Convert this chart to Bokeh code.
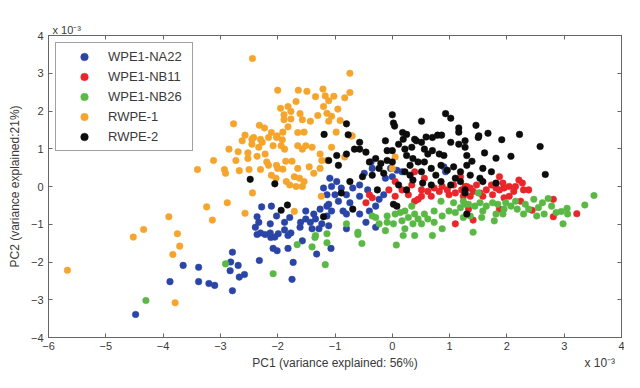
from bokeh.plotting import figure
from bokeh.models import Range1d, FixedTicker, LinearAxis, Legend, LegendItem
from bokeh.embed import file_html
from bokeh.resources import INLINE

# ---------------- data (PC scores, units of 1e-3) ----------------
names = ["WPE1-NA22", "WPE1-NB11", "WPE1-NB26", "RWPE-1", "RWPE-2"]
colors = ["#2b45a6", "#e8272b", "#5ab845", "#f5a42c", "#0d0d0d"]

na22 = [(-4.48,-3.39),(-3.88,-2.52),(-3.65,-2.09),(-3.38,-2.14),(-3.38,-2.52),(-3.20,-2.57),(-3.10,-2.62),
        (-2.79,-1.74),(-2.82,-2.00),(-2.69,-2.09),(-2.83,-2.23),(-2.67,-2.40),(-2.58,-2.33),(-2.79,-2.76),
        (-2.32,-1.96),(-2.08,-1.64),(-2.01,-1.70),(-1.82,-1.64),(-1.73,-2.01),(-1.75,-2.46),(-1.57,-1.44),
        (-1.32,-1.79),(-2.12,-1.35),(-2.05,-1.34),(-1.82,-1.30),(-1.07,-1.64),(-2.36,-1.27),(-2.22,-1.27),
        (-2.28,-0.54),(-2.11,-0.52),(-2.36,-0.80),(-2.33,-0.95),(-2.39,-1.08),(-2.30,-1.23),(-2.13,-0.99),
        (-2.13,-1.23),(-1.99,-1.25),(-1.88,-1.15),(-1.77,-1.23),(-2.02,-0.78),(-1.79,-0.82),(-1.88,-0.95),
        (-1.60,-0.95),(-1.61,-1.08),(-1.51,-0.86),(-1.20,-0.04),(-1.14,-0.22),(-1.14,-0.52),(-1.26,-0.60),
        (-1.14,-0.78),(-1.34,-0.86),(-1.23,-0.99),(-1.40,-1.12),(-1.28,-1.12),(-1.43,-0.95),(-1.37,-0.73),
        (-1.51,-0.65),
        (-1.09,0.22),(-0.97,0.13),(-1.06,0.00),(-0.89,-0.04),(-0.37,0.65),(-0.35,0.48),(-0.49,0.35),
        (-0.57,0.04),(-0.43,-0.09),(-0.69,-0.04),(-0.80,-0.22),(-0.57,-0.26),(-0.74,-0.43),(-0.94,-0.39),
        (-1.11,-0.47),(-1.06,-0.65),(-0.86,-0.65),(-0.29,-0.52),(-0.23,-0.34),(-0.15,-0.22),(0.00,0.26),
        (0.08,0.43),(0.17,0.39),(-0.03,0.48),(-0.12,0.22),(-1.11,-1.04),(-0.80,-1.12),(-0.46,-0.95),
        (-0.29,-1.08),(0.90,0.52),(0.93,0.39),(-1.00,-0.22),(-0.80,-0.73),(-0.57,-0.73),(-0.40,-0.65)]

nb11 = [(-0.40,-0.22),(-0.35,-0.30),(-0.46,-0.43),(-0.06,-0.09),(0.05,0.13),(0.05,-0.26),(0.28,-0.22),
        (0.39,0.39),(0.56,0.22),(0.51,-0.09),(0.62,-0.13),(0.51,-0.26),(0.68,-0.26),(0.82,-0.13),
        (0.87,0.00),(0.96,-0.09),(1.07,0.04),(1.10,-0.17),(1.19,0.26),(1.21,-0.09),(1.30,0.00),
        (1.10,-0.99),(0.39,-0.39),(0.17,-0.09),(0.34,0.04),(0.73,-0.04),(0.99,-0.22),(1.24,-0.26),
        (0.45,-0.34),
        (1.87,0.26),(2.21,0.17),(2.27,0.09),(2.38,-0.09),(2.04,0.00),(2.15,0.00),(1.95,-0.04),
        (1.87,-0.09),(1.73,0.04),(1.64,-0.09),(1.47,0.04),(1.36,-0.04),(1.27,0.00),(1.36,-0.26),
        (1.53,-0.17),(1.75,-0.22),(2.04,-0.26),(1.95,-0.30),(2.24,-0.39),(2.81,-0.34),(2.44,-0.63),
        (1.33,-0.60),(1.41,-0.89),(2.81,-0.80),(3.22,-0.72),(1.87,-0.60),(1.41,-0.13),(1.58,-0.26),
        (1.81,-0.04),(2.12,-0.13),(2.29,-0.09),(1.93,0.09)]

nb26 = [(-4.30,-3.02),(-2.91,-2.05),(-2.08,-2.31),(-1.66,-1.54),(-1.40,-1.60),(-1.35,-1.35),(-1.17,-2.07),
        (-1.14,-1.49),(-0.53,-1.51),(0.07,-1.55),(-0.60,-1.27),(-1.34,-1.30),(-1.14,-1.25),
        (-0.35,-0.78),(-0.09,-0.78),(0.02,-0.99),(-0.09,-0.95),(-0.23,-0.99),(0.17,-0.91),(0.22,-1.12),
        (0.36,-0.99),(0.51,-0.99),(0.39,-0.73),(0.56,-0.73),(0.73,-0.65),(0.73,-0.95),(0.87,-0.78),
        (0.99,-0.65),(0.85,-0.39),(1.07,-0.43),(1.19,-0.56),(1.27,-0.47),(0.34,-0.52),(0.14,-0.69),
        (0.05,-0.73),(0.22,-0.65),(0.87,-1.12),(-0.80,-0.99),(-0.60,-1.21),(-0.29,-0.82),(0.19,-1.30),
        (0.39,-1.30),(0.70,-1.30),(0.45,-0.86),(0.62,-0.86),(1.10,-0.69),(1.24,-0.82),(0.28,-0.82),
        (-0.12,-1.17),
        (3.52,-0.24),(3.36,-0.49),(3.05,-0.58),(2.95,-0.66),(3.06,-0.73),(2.98,-0.99),(2.72,-0.32),
        (2.62,-0.43),(2.55,-0.56),(2.65,-0.73),(2.52,-0.78),(2.47,-0.34),(2.32,-0.47),(2.29,-0.73),
        (2.15,-0.39),(2.07,-0.52),(1.98,-0.43),(1.84,-0.47),(1.75,-0.43),(1.64,-0.52),(1.53,-0.43),
        (1.44,-0.52),(1.33,-0.47),(1.50,-0.17),(1.81,-0.73),(1.78,-0.91),(1.56,-0.82),(1.36,-0.78),
        (1.41,-1.21),(2.18,-0.60),(1.95,-0.60),(1.24,-0.39),(1.58,-0.65),(1.93,-0.73),(2.38,-0.60),
        (2.78,-0.52),(2.86,-0.69)]

rwpe1 = [(-2.44,3.39),(-2.00,2.55),(-1.64,2.55),(-1.49,2.52),(-1.21,2.58),(-1.34,2.38),(-1.17,2.40),
         (-1.68,2.25),(-1.20,2.12),(-1.95,2.07),(-1.82,2.12),(-1.77,1.99),(-1.89,1.90),(-1.61,1.93),
         (-1.30,1.88),(-1.14,1.94),(-1.89,1.77),(-1.77,1.79),(-1.57,1.77),(-1.43,1.73),(-2.77,1.66),
         (-2.32,1.62),(-2.23,1.55),(-1.82,1.58),(-1.91,1.44),(-2.11,1.43),(-2.57,1.36),(-2.42,1.30),
         (-1.65,1.43),(-1.54,1.44),(-2.01,1.34),
         (-0.74,3.00),(-0.74,2.49),(-0.83,2.35),(-1.02,2.39),(-1.11,2.27),(-0.95,2.05),(-1.06,1.86),
         (-0.91,1.75),(-1.11,1.73),(-0.98,1.44),(-0.70,1.34),
         (-3.40,0.45),(-3.90,-0.80),(-4.34,-1.14),(-3.75,-1.25),(-4.52,-1.34),(-3.71,-1.58),(-3.83,-1.80),
         (-5.67,-2.22),(-3.79,-3.08),
         (-2.62,1.21),(-2.45,1.25),(-3.12,0.69),(-2.93,0.45),(-2.91,0.35),(-2.67,0.42),(-2.69,0.92),
         (-2.52,0.89),(-2.52,0.74),(-2.36,0.80),(-2.50,0.45),(-2.30,0.45),(-2.19,0.65),(-2.16,0.56),
         (-2.02,0.56),(-2.00,0.48),(-1.86,0.67),(-1.75,0.67),(-1.91,0.46),(-2.03,0.22),(-1.85,0.13),
         (-1.71,0.26),(-1.62,0.22),(-1.54,0.13),(-1.57,0.00),(-1.68,0.00),(-1.79,0.04),(-1.45,0.52),
         (-1.26,0.48),(-1.23,0.69),(-1.14,0.69),(-1.26,0.86),(-1.57,0.99),(-1.51,1.08),(-1.40,1.04),
         (-1.65,1.08),(-1.94,1.08),(-1.88,0.99),(-2.08,1.08),(-2.27,1.17),(-2.44,-0.17),(-2.88,-0.43),
         (-3.24,-0.54),(-3.14,-0.89),(-2.57,-0.71),(-1.71,-0.66),(-1.24,-0.26),
         (-1.06,1.04),(-0.83,0.78),(0.05,0.78),(0.00,0.48),(-0.72,1.34),
         (-2.30,1.25),(-2.16,1.30),(-2.02,1.30),(-1.92,1.24),(-2.45,1.12),(-2.33,1.04),(-2.85,0.99),
         (-2.73,0.69),(-2.22,0.86),(-1.65,0.48),(-1.37,0.35),(-2.11,0.30)]

rwpe2 = [(-1.19,1.38),(-0.80,1.66),(-0.77,1.37),(0.00,1.90),(0.02,1.68),(0.04,1.60),(0.51,1.73),
         (0.93,1.93),(1.02,1.81),(1.16,1.55),(1.16,1.44),(0.18,1.43),(0.25,1.38),(0.39,1.25),
         (0.59,1.31),(0.79,1.36),(0.86,1.36),(-0.12,1.21),
         (1.46,1.62),(1.51,1.34),(1.67,1.41),(1.91,1.24),(2.22,1.38),
         (-2.48,0.19),(-2.05,0.07),(-1.83,-0.49),(-1.94,-0.63),(-1.20,-0.80),
         (-0.09,0.95),(-0.66,0.99),(-0.57,0.99),(-0.97,0.82),(-1.11,0.69),(-0.94,0.56),(-0.46,0.91),
         (-0.40,0.65),(-0.29,0.74),(-0.20,0.61),(-0.09,0.69),(0.00,0.65),(-0.35,0.30),(-0.23,0.48),
         (-0.15,0.35),(-0.74,0.13),(-0.89,-0.17),(-0.69,-0.60),(-0.26,-0.09),(0.02,-0.47),(0.08,-0.52),
         (0.25,-0.09),(0.19,1.25),(0.22,0.99),(0.25,0.82),(0.34,1.04),(0.42,1.21),(0.51,1.17),
         (0.56,0.99),(0.62,0.86),(0.70,0.95),(0.82,0.86),(0.90,0.82),(1.02,1.17),(1.16,1.12),
         (1.27,1.04),(0.36,0.74),(0.45,0.65),(0.31,0.56),(0.22,0.39),(0.51,0.39),(0.68,0.48),
         (0.85,0.56),(0.96,0.43),(1.07,0.52),(1.19,0.39),(0.36,0.17),(0.53,0.09),(0.68,0.04),
         (0.85,0.13),(1.02,0.04),(1.19,0.13),(1.27,-0.09),(1.30,-0.73),(0.70,1.30),
         (-0.57,1.17),(-0.80,0.86),(0.11,1.12),(0.00,0.95),(0.31,0.30),(1.10,0.22),(0.76,0.30),
         (0.56,0.65),(0.11,0.04),(-0.52,0.26),
         (1.50,1.30),(2.58,1.06),(1.61,0.89),(1.81,0.75),(2.07,0.80),(1.30,0.82),(1.39,0.67),
         (1.30,0.56),(1.58,0.48),(1.73,0.39),(1.36,0.30),(1.53,0.22),(1.58,0.13),(1.81,0.09),
         (2.67,0.32),(1.27,-0.17),(1.27,1.21)]

groups = [na22, nb11, nb26, rwpe1, rwpe2]
x_ticks = [-6, -5, -4, -3, -2, -1, 0, 1, 2, 3, 4]
y_ticks = [-4, -3, -2, -1, 0, 1, 2, 3, 4]
x_title = "PC1 (variance explained: 56%)"
y_title = "PC2 (variance explained:21%)"
exp_text = "x 10\u207b\u00b3"

# ---------------- figure ----------------
FONT = "Liberation Sans"
AX = "#666666"
TXT = "#3a3a3a"

p = figure(width=624, height=372, output_backend="svg", toolbar_location=None,
           x_range=Range1d(-6, 4), y_range=Range1d(-4, 4),
           min_border_left=48, min_border_top=35, min_border_right=3, min_border_bottom=30)
p.grid.visible = False
p.outline_line_color = AX
p.background_fill_color = "white"
p.border_fill_color = "white"

# top-left exponent as the figure title
p.title.text = exp_text
p.title.align = "left"
p.title.offset = 4
p.title.standoff = 0
p.title.text_font = FONT
p.title.text_font_size = "11px"
p.title.text_font_style = "normal"
p.title.text_color = TXT

for ax, ticks in ((p.xaxis[0], x_ticks), (p.yaxis[0], y_ticks)):
    ax.ticker = FixedTicker(ticks=ticks)
    ax.major_tick_in = 4
    ax.major_tick_out = 0
    ax.minor_tick_line_color = None
    ax.axis_line_color = AX
    ax.major_tick_line_color = AX
    ax.major_label_text_font = FONT
    ax.major_label_text_font_size = "11px"
    ax.major_label_text_color = TXT
    ax.axis_label_text_font = FONT
    ax.axis_label_text_font_size = "12px"
    ax.axis_label_text_font_style = "normal"
    ax.axis_label_text_color = TXT
p.yaxis.axis_label = y_title
p.xaxis.major_label_standoff = 4
p.yaxis.major_label_standoff = 5
p.yaxis.axis_label_standoff = 6

for side, ticks in (("above", x_ticks), ("right", y_ticks)):
    a = LinearAxis(ticker=FixedTicker(ticks=ticks), major_label_overrides={t: "" for t in ticks},
                   major_label_standoff=0, major_tick_in=4, major_tick_out=0,
                   minor_tick_line_color=None, axis_line_color=AX, major_tick_line_color=AX)
    p.add_layout(a, side)

# second row below the axis: x-axis title (centred) and the exponent (right)
mid = (x_ticks[0] + x_ticks[-1]) / 2
exp_pos = 3.62
lab_axis = LinearAxis(ticker=FixedTicker(ticks=[mid, exp_pos]),
                      major_label_overrides={mid: x_title, exp_pos: exp_text},
                      major_label_standoff=3, major_tick_in=0, major_tick_out=0,
                      major_tick_line_color=None, minor_tick_line_color=None, axis_line_color=None,
                      major_label_text_font=FONT, major_label_text_font_size="12px",
                      major_label_text_color=TXT)
p.add_layout(lab_axis, "below")

items = []
for name, col, pts in zip(names, colors, groups):
    xs = [a for a, b in pts]
    ys = [b for a, b in pts]
    r = p.scatter(xs, ys, size=6.6, fill_color=col, line_color=col, line_width=0.5)
    items.append(LegendItem(label=name, renderers=[r]))

leg = Legend(items=items, location="top_left", margin=7, padding=4, spacing=1,
             glyph_width=48, glyph_height=19, label_height=19, label_width=80, label_standoff=0,
             label_text_font=FONT, label_text_font_size="13px", label_text_color=TXT,
             border_line_color="#444444", border_line_width=1, background_fill_color="white",
             background_fill_alpha=1)
p.add_layout(leg, "center")

open("out.html", "w").write(file_html(p, INLINE))
